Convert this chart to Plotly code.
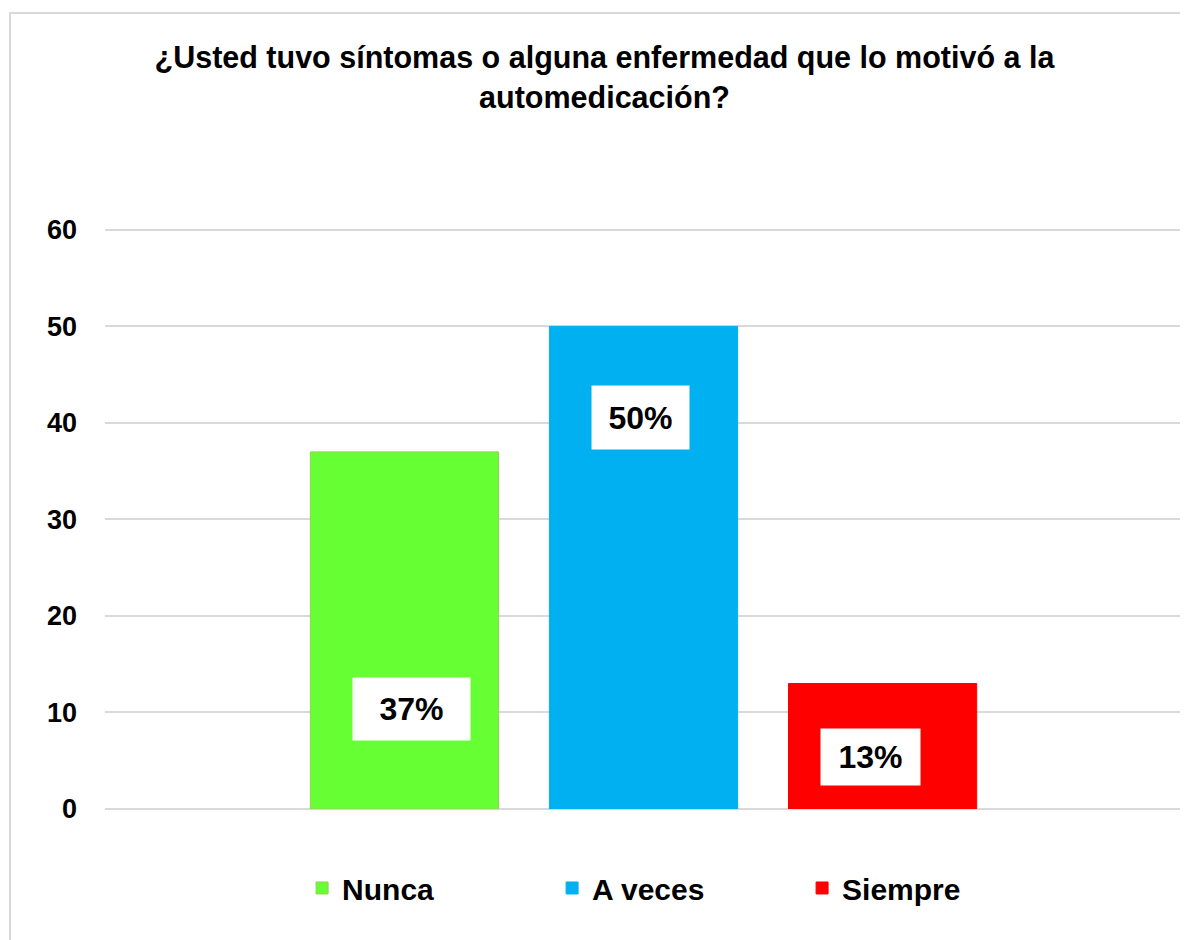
import plotly.graph_objects as go

# ---- data ----
categories = ["Nunca", "A veces", "Siempre"]
values = [37, 50, 13]
pct_labels = ["37%", "50%", "13%"]
colors = ["#66FF33", "#00B0F0", "#FF0000"]
outline_colors = ["#92D050", "#00B0F0", "#FF0000"]
y_ticks = [0, 10, 20, 30, 40, 50, 60]

title_text = "¿Usted tuvo síntomas o alguna enfermedad que lo motivó a la<br>automedicación?"

FONT = "Liberation Sans, Arial, sans-serif"

# label box placement (x offset in category units, y in data units, box size)
label_x = [-0.215, -0.003, 0.211]
label_y = [10.36, 40.6, 5.4]
label_w = [113, 93, 95]
label_h = [58, 59, 52]

fig = go.Figure()
for name, v, c, oc in zip(categories, values, colors, outline_colors):
    fig.add_trace(go.Bar(
        x=[""], y=[v], name=name,
        marker=dict(color=c, line=dict(color=oc, width=1)),
        hoverinfo="skip",
    ))

for lx, ly, t, w, h in zip(label_x, label_y, pct_labels, label_w, label_h):
    fig.add_annotation(
        x=lx, y=ly, xref="x", yref="y", text=t, showarrow=False,
        bgcolor="white", width=w, height=h, borderpad=2,
        font=dict(family=FONT, size=32, color="black", weight="bold"),
    )

# outer chart border (light gray)
fig.add_shape(type="rect", xref="paper", yref="paper",
              x0=-0.0882, x1=1.03, y0=-0.26, y1=1.3677,
              line=dict(color="#D9D9D9", width=2), fillcolor="rgba(0,0,0,0)",
              layer="below")

fig.update_layout(
    width=1188, height=940,
    margin=dict(l=97, r=14, t=219, b=139),
    paper_bgcolor="white", plot_bgcolor="white",
    barmode="group", bargap=0.334, bargroupgap=0.213,
    title=dict(text=title_text, x=0.5021, xanchor="center", xref="container",
               y=0.936, yanchor="top", yref="container",
               font=dict(family=FONT, size=30.5, color="black", weight="bold")),
    xaxis=dict(showticklabels=False, showgrid=False, zeroline=False,
               showline=False, range=[-0.5, 0.5]),
    yaxis=dict(range=[0, 60.3], tickvals=y_ticks, showgrid=True,
               gridcolor="#D9D9D9", gridwidth=1.5, zeroline=True,
               zerolinecolor="#D9D9D9", zerolinewidth=1.5, showline=False,
               ticks="", ticklabelstandoff=27,
               tickfont=dict(family=FONT, size=27, color="black", weight="bold")),
    legend=dict(orientation="h", x=0.183, xanchor="left", y=-0.1357,
                yanchor="middle", entrywidth=205, entrywidthmode="pixels",
                font=dict(family=FONT, size=30, color="black", weight="bold"),
                bgcolor="rgba(0,0,0,0)"),
    showlegend=True,
)

fig.write_html("out.html")
